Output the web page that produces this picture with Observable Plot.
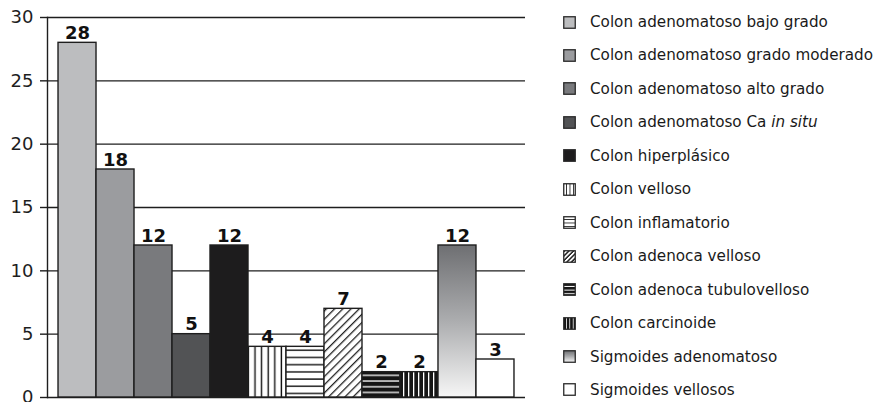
<!DOCTYPE html>
<html>
<head>
<meta charset="utf-8">
<script src="https://cdn.jsdelivr.net/npm/d3@7"></script>
<script src="https://cdn.jsdelivr.net/npm/@observablehq/plot@0.6"></script>
<style>
  html, body { margin: 0; padding: 0; background: #fff; overflow: hidden; }
  #wrap { position: relative; width: 876px; height: 402px; }
  #legend { position: absolute; left: 0; top: 0; width: 876px; height: 402px; pointer-events: none;
            font-family: "DejaVu Sans", sans-serif; font-size: 15.2px; color: #1a1a1a; }
  .row { position: absolute; left: 563px; height: 20px; display: flex; align-items: center; white-space: nowrap; }
  .row svg { margin-right: 14px; flex: none; }
</style>
</head>
<body>
<div id="wrap"><div id="chart"></div><div id="legend"></div></div>
<script>
const categories = [
  "Colon adenomatoso bajo grado",
  "Colon adenomatoso grado moderado",
  "Colon adenomatoso alto grado",
  "Colon adenomatoso Ca in situ",
  "Colon hiperplásico",
  "Colon velloso",
  "Colon inflamatorio",
  "Colon adenoca velloso",
  "Colon adenoca tubulovelloso",
  "Colon carcinoide",
  "Sigmoides adenomatoso",
  "Sigmoides vellosos"
];
const values = [28, 18, 12, 5, 12, 4, 4, 7, 2, 2, 12, 3];
const yTicks = [0, 5, 10, 15, 20, 25, 30];
const fills = [
  "#bcbdbf", "#9b9c9f", "#797a7d", "#525355", "#1d1c1d",
  "url(#p-vert)", "url(#p-horiz)", "url(#p-diag)", "url(#p-hdark)", "url(#p-vdark)",
  "url(#g-sig)", "#ffffff"
];
const swatchFills = [
  "#bcbdbf", "#9b9c9f", "#797a7d", "#525355", "#1d1c1d",
  "url(#s-vert)", "url(#s-horiz)", "url(#s-diag)", "url(#s-hdark)", "url(#s-vdark)",
  "url(#g-sig)", "#ffffff"
];

const data = categories.map((c, i) => ({cat: c, value: values[i], fill: fills[i]}));
const ink = "#1e1e1e";

const chart = Plot.plot({
  width: 876,
  height: 402,
  marginLeft: 47,
  marginRight: 351,
  marginTop: 17,
  marginBottom: 5,
  style: {fontFamily: "DejaVu Sans, sans-serif", color: ink, background: "transparent", overflow: "visible"},
  x: {domain: categories, paddingInner: 0, paddingOuter: 0.29, round: false, axis: null},
  y: {domain: [0, 30], axis: null},
  color: {type: "identity"},
  marks: [
    Plot.ruleY(yTicks, {stroke: ink, strokeWidth: 1.4}),
    Plot.barY(data, {x: "cat", y: "value", fill: "fill", stroke: ink, strokeWidth: 1.4}),
    Plot.text(data, {x: "cat", y: "value", text: d => String(d.value), dy: -4, lineAnchor: "bottom",
      fontSize: 18, fontWeight: "bold", fill: "#111"}),
    Plot.axisY({ticks: yTicks, tickSize: 7, tickPadding: 7, fontSize: 18, stroke: ink, strokeWidth: 1.4, fill: ink, label: null}),
    Plot.frame({anchor: "left", stroke: ink, strokeWidth: 1.4})
  ]
});

const defs = `
<defs>
  <pattern id="p-vert" patternUnits="userSpaceOnUse" width="6.6" height="10" x="1">
    <rect width="6.6" height="10" fill="#fff"/><rect x="2.5" width="1.4" height="10" fill="#111"/>
  </pattern>
  <pattern id="p-horiz" patternUnits="userSpaceOnUse" width="10" height="7.2" y="1">
    <rect width="10" height="7.2" fill="#fff"/><rect y="3" width="10" height="1.4" fill="#111"/>
  </pattern>
  <pattern id="p-diag" patternUnits="userSpaceOnUse" width="5.8" height="10" patternTransform="rotate(45)">
    <rect width="5.8" height="10" fill="#fff"/><rect x="2" width="1.2" height="10" fill="#111"/>
  </pattern>
  <pattern id="p-hdark" patternUnits="userSpaceOnUse" width="10" height="5.7" y="2">
    <rect width="10" height="5.7" fill="#151515"/><rect y="2.2" width="10" height="1.3" fill="#fff"/>
  </pattern>
  <pattern id="p-vdark" patternUnits="userSpaceOnUse" width="5" height="10" x="1">
    <rect width="5" height="10" fill="#151515"/><rect x="2" width="1.3" height="10" fill="#fff"/>
  </pattern>
  <pattern id="s-vert" patternUnits="userSpaceOnUse" width="3.4" height="10" x="0.6">
    <rect width="3.4" height="10" fill="#fff"/><rect x="2.6" width="1.1" height="10" fill="#111"/>
  </pattern>
  <pattern id="s-horiz" patternUnits="userSpaceOnUse" width="10" height="3.4" y="0.6">
    <rect width="10" height="3.4" fill="#fff"/><rect y="2.6" width="10" height="1.1" fill="#111"/>
  </pattern>
  <pattern id="s-diag" patternUnits="userSpaceOnUse" width="3.2" height="10" patternTransform="rotate(45)">
    <rect width="3.2" height="10" fill="#fff"/><rect x="1" width="1.4" height="10" fill="#111"/>
  </pattern>
  <pattern id="s-hdark" patternUnits="userSpaceOnUse" width="10" height="3.6" y="0.4">
    <rect width="10" height="3.6" fill="#151515"/><rect y="2.6" width="10" height="1" fill="#fff"/>
  </pattern>
  <pattern id="s-vdark" patternUnits="userSpaceOnUse" width="3.4" height="10" x="0.4">
    <rect width="3.4" height="10" fill="#151515"/><rect x="2.6" width="1" height="10" fill="#fff"/>
  </pattern>
  <linearGradient id="g-sig" x1="0" y1="0" x2="0" y2="1">
    <stop offset="0" stop-color="#6e6f72"/><stop offset="0.5" stop-color="#acadaf"/><stop offset="1" stop-color="#f6f6f6"/>
  </linearGradient>
</defs>`;
chart.insertAdjacentHTML("afterbegin", defs);
document.getElementById("chart").append(chart);

// Legend
const legend = document.getElementById("legend");
const rowTop = 22, rowStep = 33.45;
categories.forEach((c, i) => {
  const row = document.createElement("div");
  row.className = "row";
  row.style.top = (rowTop + i * rowStep - 10) + "px";
  const label = c.endsWith("in situ") ? c.replace("in situ", "<i>in situ</i>") : c;
  row.innerHTML = `<svg width="13" height="13"><rect x="0.75" y="0.75" width="11.5" height="11.5" fill="${swatchFills[i]}" stroke="#2a2a2a" stroke-width="1.3"/></svg><span>${label}</span>`;
  legend.append(row);
});
</script>
</body>
</html>
